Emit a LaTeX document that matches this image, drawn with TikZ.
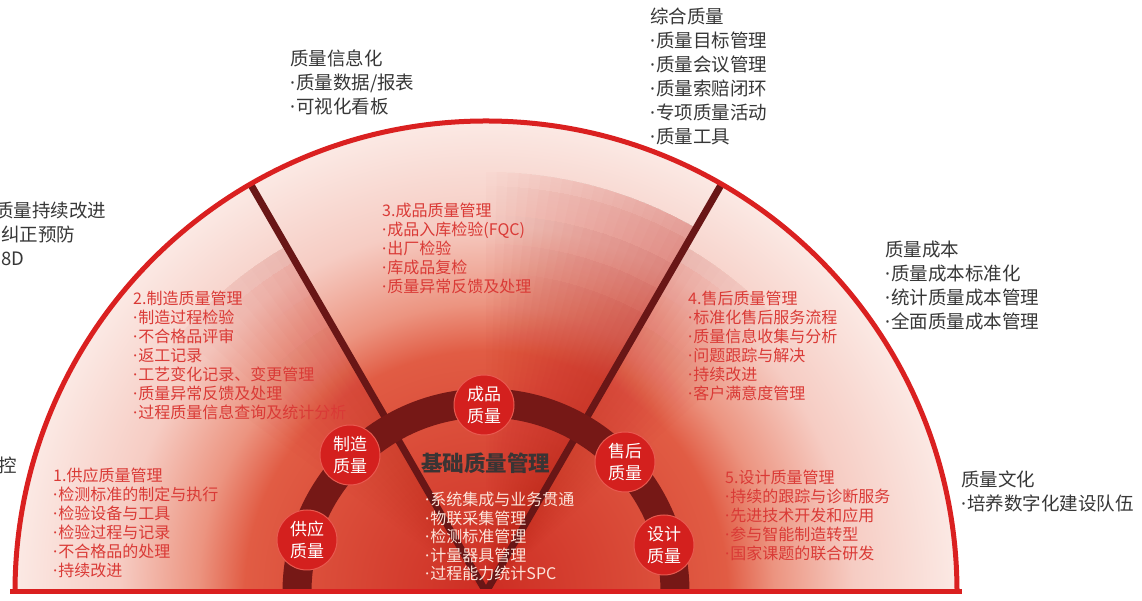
\documentclass[tikz,border=0pt]{standalone}
\usepackage{fontspec}
\setmainfont{Noto Sans CJK SC}
\newfontfamily\dotf{Noto Sans}
\newcommand\bu{{\dotf ·}\hspace{1pt}}
\usetikzlibrary{calc,fadings}
\definecolor{outred}{RGB}{218,32,32}
\definecolor{ringc}{RGB}{118,24,22}
\definecolor{linec}{RGB}{105,22,22}
\definecolor{nodec}{RGB}{212,32,30}
\definecolor{noderim}{RGB}{232,90,80}
\definecolor{redtxt}{RGB}{218,58,54}
\definecolor{graytxt}{RGB}{55,55,55}
\definecolor{centertxt}{RGB}{252,228,218}
\definecolor{titletxt}{RGB}{58,52,52}
\definecolor{shadowc}{RGB}{192,34,28}
\definecolor{s0}{RGB}{205,45,35}
\definecolor{s1}{RGB}{225,92,68}
\definecolor{s2}{RGB}{236,148,128}
\definecolor{s3}{RGB}{246,204,195}
\definecolor{s4}{RGB}{251,232,227}
\definecolor{s5}{RGB}{254,246,243}
\definecolor{s6}{RGB}{255,252,250}
% radial shading: TikZ maps 50bp to half the diagonal of the path box (471*sqrt2)
\pgfdeclareradialshading{semi}{\pgfpoint{0bp}{0bp}}{color(0bp)=(s0); color(12.8bp)=(s1); color(15.3bp)=(s2); color(19.5bp)=(s3); color(24.8bp)=(s4); color(30bp)=(s5); color(35.4bp)=(s6); color(50bp)=(s6)}
\pgfdeclareradialshading{fadeshade}{\pgfpoint{0bp}{0bp}}{color(0bp)=(white); color(16bp)=(white); color(28bp)=(black); color(50bp)=(black)}
\begin{tikzfadingfrompicture}[name=radf]
  \shade[shading=fadeshade] (0,0) circle (1cm);
\end{tikzfadingfrompicture}
\tikzset{
  gblk/.style={anchor=north west, align=left, inner sep=0pt, font=\fontsize{18.5}{24}\selectfont, text=graytxt},
  rblk/.style={anchor=north west, align=left, inner sep=0pt, font=\fontsize{16}{19}\selectfont, text=redtxt},
  cblk/.style={anchor=north west, align=left, inner sep=0pt, font=\fontsize{16}{18.5}\selectfont, text=centertxt},
  qnode/.style={circle, fill=nodec, draw=noderim, line width=1pt, minimum size=60pt, inner sep=0pt, align=center, text=white, font=\fontsize{17}{22}\selectfont},
  divider/.style={draw=linec, line width=7pt},
  shadowfill/.style={fill=shadowc, path fading=radf},
}
\begin{document}
\begin{tikzpicture}[x=1pt,y=1pt]
\useasboundingbox (0,0) rectangle (1142,601);
\coordinate (O) at (486,9);
% background fill
\begin{scope}
  \clip (O) ++(-471,0) arc (180:0:471) -- cycle;
  \shade[shading=semi] (O) circle (471);
  % shadows beside the dividers
  \foreach \k in {1,...,20} {
    \begin{scope}
      \clip (O) -- ++(60:600) arc (60:{60+1.5*\k}:600) -- cycle;
      \fill[shadowfill, fill opacity=0.032] (O) circle (420);
    \end{scope}
  }
  \foreach \k in {1,...,12} {
    \begin{scope}
      \clip (O) -- ++(60:600) arc (60:{60-1.5*\k}:600) -- cycle;
      \fill[shadowfill, fill opacity=0.025] (O) circle (400);
    \end{scope}
    \begin{scope}
      \clip (O) -- ++(120:600) arc (120:{120+2*\k}:600) -- cycle;
      \fill[shadowfill, fill opacity=0.025] (O) circle (400);
    \end{scope}
  }
\end{scope}
% dividers
\coordinate (d1) at ($(O)+(120:471)$);
\coordinate (d2) at ($(O)+(60:471)$);
\draw[divider] (O) -- (d1);
\draw[divider] (O) -- (d2);
% inner ring
\draw[ringc, line width=29pt] (O) ++(189,0) arc (0:180:189);
% outer frame
\draw[outred, line width=5pt] (O) ++(-471,0) arc (180:0:471);
\draw[outred, line width=5pt] (O) ++(-476,0) -- ++(952,0);
% quality nodes
\node[qnode] (n1) at (307,61) {供应\\质量};
\node[qnode] (n2) at (350,146) {制造\\质量};
\node[qnode] (n3) at (484,196) {成品\\质量};
\node[qnode] (n4) at (625,139) {售后\\质量};
\node[qnode] (n5) at (664,56) {设计\\质量};
% centre
\node[anchor=west, inner sep=0pt, font=\fontsize{21.5}{24}\selectfont\bfseries, text=titletxt] (base) at (421,138) {基础质量管理};
\node[cblk] (basel) at (425,109) {\bu 系统集成与业务贯通\\\bu 物联采集管理\\\bu 检测标准管理\\\bu 计量器具管理\\\bu 过程能力统计SPC};
% red blocks
\node[rblk] (r1) at (53,133) {1.供应质量管理\\\bu 检测标准的制定与执行\\\bu 检验设备与工具\\\bu 检验过程与记录\\\bu 不合格品的处理\\\bu 持续改进};
\node[rblk] (r2) at (133,310) {2.制造质量管理\\\bu 制造过程检验\\\bu 不合格品评审\\\bu 返工记录\\\bu 工艺变化记录、变更管理\\\bu 质量异常反馈及处理\\\bu 过程质量信息查询及统计分析};
\node[rblk] (r3) at (382,398) {3.成品质量管理\\\bu 成品入库检验(FQC)\\\bu 出厂检验\\\bu 库成品复检\\\bu 质量异常反馈及处理};
\node[rblk] (r4) at (688,310) {4.售后质量管理\\\bu 标准化售后服务流程\\\bu 质量信息收集与分析\\\bu 问题跟踪与解决\\\bu 持续改进\\\bu 客户满意度管理};
\node[rblk] (r5) at (725,131) {5.设计质量管理\\\bu 持续的跟踪与诊断服务\\\bu 先进技术开发和应用\\\bu 参与智能制造转型\\\bu 国家课题的联合研发};
% gray blocks
\node[gblk] (g1) at (-5,399) {质量持续改进\\\bu 纠正预防\\\bu 8D};
\node[anchor=west, inner sep=0pt, font=\fontsize{18.5}{24}\selectfont, text=graytxt] (g2) at (-2,136) {控};
\node[gblk] (g3) at (290,551) {质量信息化\\\bu 质量数据/报表\\\bu 可视化看板};
\node[gblk] (g4) at (650,593) {综合质量\\\bu 质量目标管理\\\bu 质量会议管理\\\bu 质量索赔闭环\\\bu 专项质量活动\\\bu 质量工具};
\node[gblk] (g5) at (885,360) {质量成本\\\bu 质量成本标准化\\\bu 统计质量成本管理\\\bu 全面质量成本管理};
\node[gblk] (g6) at (961,130) {质量文化\\\bu 培养数字化建设队伍};
\end{tikzpicture}
\end{document}
